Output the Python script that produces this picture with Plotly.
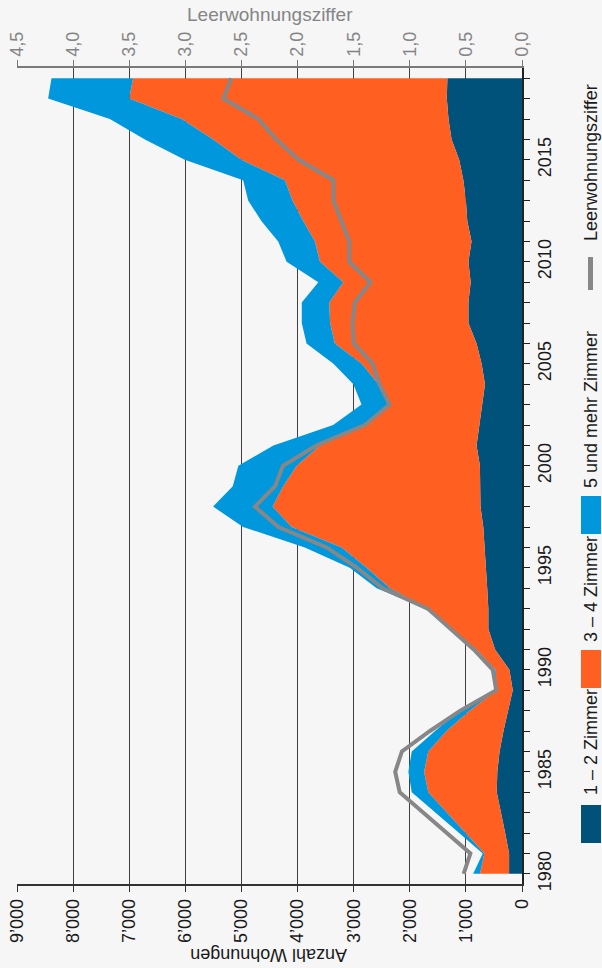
import plotly.graph_objects as go

# ---------------- data ----------------
years = list(range(1980, 2020))

zimmer_1_2 = [230, 230, 300, 380, 450, 440, 400, 330, 245, 165,
              225, 480, 600, 600, 620, 640, 660, 690, 740, 750,
              750, 810, 760, 720, 660, 720, 810, 955, 955, 915,
              955, 900, 975, 1000, 1045, 1120, 1255, 1310, 1340, 1330]

zimmer_3_4 = [520, 440, 705, 955, 1220, 1305, 1270, 1015, 685, 285,
              245, 330, 655, 1070, 1735, 2130, 2555, 3415, 3705, 3505,
              3265, 2790, 1980, 1665, 1900, 2135, 2525, 2465, 2480, 2270,
              2645, 2790, 2925, 3090, 3180, 3880, 4250, 4755, 5660, 5600]

zimmer_5_plus = [120, 30, 115, 210, 295, 280, 295, 205, 180, 20,
                 20, 20, 35, 50, 235, 300, 655, 865, 1060, 900,
                 1040, 830, 625, 475, 445, 505, 505, 505, 490, 445,
                 595, 655, 745, 790, 745, 1010, 1215, 1280, 1445, 1455]

leerwohnungsziffer = [0.52, 0.46, 0.67, 0.88, 1.09, 1.13, 1.07, 0.82, 0.55, 0.23,
                      0.26, 0.43, 0.64, 0.84, 1.24, 1.47, 1.74, 2.17, 2.38, 2.20,
                      2.13, 1.83, 1.40, 1.18, 1.27, 1.33, 1.50, 1.51, 1.49, 1.35,
                      1.54, 1.54, 1.61, 1.68, 1.68, 1.99, 2.19, 2.35, 2.66, 2.59]

series_names = ["1 – 2 Zimmer", "3 – 4 Zimmer", "5 und mehr Zimmer"]
line_name = "Leerwohnungsziffer"
count_title = "Anzahl Wohnungen"

count_ticks = [9000, 8000, 7000, 6000, 5000, 4000, 3000, 2000, 1000, 0]
count_tick_labels = ["9’000", "8’000", "7’000", "6’000", "5’000",
                     "4’000", "3’000", "2’000", "1’000", "0"]
rate_ticks = [4.5, 4.0, 3.5, 3.0, 2.5, 2.0, 1.5, 1.0, 0.5, 0.0]
rate_tick_labels = ["4,5", "4,0", "3,5", "3,0", "2,5", "2,0", "1,5", "1,0", "0,5", "0,0"]

# ---------------- style ----------------
FONT = "Liberation Sans, Arial, Helvetica, sans-serif"
FS = 18
DARK = "#00527a"
ORANGE = "#ff5f21"
LIGHT = "#0097dc"
GREY = "#878787"
BG = "#f6f6f6"
colors = [DARK, ORANGE, LIGHT]

fig = go.Figure()
for name, vals, col in zip(series_names, [zimmer_1_2, zimmer_3_4, zimmer_5_plus], colors):
    fig.add_trace(go.Scatter(
        x=vals, y=years, name=name, stackgroup="one", orientation="h",
        mode="lines", line=dict(width=0, color=col), fillcolor=col,
        xaxis="x", yaxis="y", hoverinfo="skip"))

fig.add_trace(go.Scatter(
    x=leerwohnungsziffer, y=years, name=line_name, mode="lines",
    line=dict(color=GREY, width=4), xaxis="x2", yaxis="y", hoverinfo="skip"))

fig.update_layout(
    width=602, height=968,
    margin=dict(l=17, r=80, t=68, b=84, autoexpand=False),
    paper_bgcolor=BG, plot_bgcolor=BG,
    showlegend=False,
    font=dict(family=FONT, size=FS, color="#1a1a1a"),
    xaxis=dict(range=[9000, 0], tickmode="array", tickvals=count_ticks,
               ticktext=count_tick_labels, tickangle=-90,
               showgrid=True, gridcolor="#404040", gridwidth=1,
               zeroline=False, showline=True, linecolor="#333333", linewidth=1.5,
               ticks="outside", ticklen=6, tickcolor="#333333", anchor="y",
               side="bottom", automargin=False),
    xaxis2=dict(overlaying="x", side="top", anchor="y", range=[4.5, 0],
                tickmode="array", tickvals=rate_ticks, ticktext=rate_tick_labels,
                tickangle=-90, showgrid=False, zeroline=False,
                showline=True, linecolor="#7a7a7a", linewidth=1.5,
                ticks="outside", ticklen=6, tickcolor="#7a7a7a",
                tickfont=dict(color="#858585"), automargin=False),
    yaxis=dict(side="right", range=[1979.5, 2019.5], tickmode="linear",
               tick0=1980, dtick=5, tickangle=-90, ticks="outside", ticklen=6,
               tickcolor="#222222", showgrid=False, zeroline=False,
               showline=True, linecolor="#222222", linewidth=1.5, automargin=False,
               minor=dict(tick0=1980, dtick=1, ticks="outside", ticklen=6,
                          tickcolor="#222222", showgrid=False)),
)

def px_x(p):
    return (p - 17) / 505.0

def px_y(p):
    return (884 - p) / 816.0

annotations = [
    dict(text=line_name, x=px_x(270), y=px_y(14), xref="paper", yref="paper",
         showarrow=False, xanchor="center", yanchor="middle",
         font=dict(color="#858585", size=19)),
    dict(text=count_title, x=px_x(269), y=px_y(955), xref="paper", yref="paper",
         showarrow=False, xanchor="center", yanchor="middle", textangle=180,
         font=dict(size=FS)),
]
legend_centers = [742, 589, 410, 163]
for txt, cy in zip(series_names + [line_name], legend_centers):
    annotations.append(dict(text=txt, x=px_x(591), y=px_y(cy), xref="paper", yref="paper",
                            showarrow=False, xanchor="center", yanchor="middle",
                            textangle=-90, font=dict(size=FS)))
fig.update_layout(annotations=annotations)

swatches = [(DARK, 805, 843), (ORANGE, 650, 688), (LIGHT, 496, 534)]
shapes = []
for col, y0, y1 in swatches:
    shapes.append(dict(type="rect", xref="paper", yref="paper",
                       x0=px_x(581), x1=px_x(601), y0=px_y(y1), y1=px_y(y0),
                       fillcolor=col, line=dict(width=0)))
shapes.append(dict(type="rect", xref="paper", yref="paper",
                   x0=px_x(588), x1=px_x(593), y0=px_y(290), y1=px_y(257),
                   fillcolor=GREY, line=dict(width=0)))
fig.update_layout(shapes=shapes)

fig.write_html(
    "out.html",
    config={"displayModeBar": False},
    post_script="document.documentElement.style.margin='0';"
                "document.body.style.margin='0';document.body.style.padding='0';"
                "document.body.style.overflow='hidden';"
                "document.body.style.background='" + BG + "';",
)
